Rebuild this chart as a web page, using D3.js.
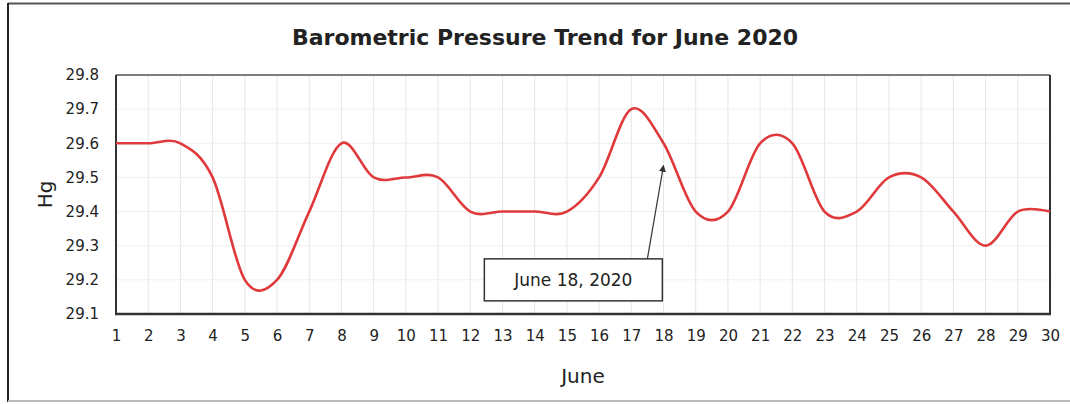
<!DOCTYPE html>
<html>
<head>
<meta charset="utf-8">
<script src="https://cdn.jsdelivr.net/npm/d3@7"></script>
<style>
  html, body { margin: 0; padding: 0; background: #fff; }
  svg { display: block; }
  text { font-family: "DejaVu Sans", "Noto Sans", sans-serif; fill: #222; }
</style>
</head>
<body>
<svg id="chart" width="1070" height="404"></svg>
<script>
// Daily barometric pressure, June 2020 (inches of mercury)
const days = d3.range(1, 31);
const pressure = [29.6, 29.6, 29.6, 29.5, 29.2, 29.2, 29.4, 29.6, 29.5, 29.5,
                  29.5, 29.4, 29.4, 29.4, 29.4, 29.5, 29.7, 29.6, 29.4, 29.4,
                  29.6, 29.6, 29.4, 29.4, 29.5, 29.5, 29.4, 29.3, 29.4, 29.4];
const yTicks = [29.1, 29.2, 29.3, 29.4, 29.5, 29.6, 29.7, 29.8];
const xTicks = days;

const titleText = "Barometric Pressure Trend for June 2020";
const xTitle = "June";
const yTitle = "Hg";

// callout: box centre and arrow (in day / pressure units)
const calloutText = "June 18, 2020";
const calloutBox = { day: 15.2, value: 29.2 };
const calloutArrowFrom = { day: 17.5, value: 29.262 };
const calloutArrowTo = { day: 18.0, value: 29.535 };

const svg = d3.select("#chart");
const plot = { left: 116, right: 1050, top: 75, bottom: 314 };

const x = d3.scaleLinear().domain([1, 30]).range([plot.left, plot.right]);
const y = d3.scaleLinear().domain([29.1, 29.8]).range([plot.bottom, plot.top]);

// outer frame (its right side runs past the page edge)
svg.append("line").attr("x1", 8).attr("x2", 1070).attr("y1", 3.5).attr("y2", 3.5)
  .attr("stroke", "#555").attr("stroke-width", 2);
svg.append("line").attr("x1", 8).attr("x2", 8).attr("y1", 3).attr("y2", 402)
  .attr("stroke", "#222").attr("stroke-width", 2);
svg.append("line").attr("x1", 8).attr("x2", 1070).attr("y1", 401).attr("y2", 401)
  .attr("stroke", "#bbb").attr("stroke-width", 2);

// grid
const grid = svg.append("g");
grid.selectAll("line.v").data(xTicks).join("line")
  .attr("x1", d => x(d)).attr("x2", d => x(d))
  .attr("y1", plot.top).attr("y2", plot.bottom)
  .attr("stroke", "#e6e6e6").attr("stroke-width", 1);
grid.selectAll("line.h").data(yTicks).join("line")
  .attr("x1", plot.left).attr("x2", plot.right)
  .attr("y1", d => y(d)).attr("y2", d => y(d))
  .attr("stroke", "#efefef").attr("stroke-width", 1);

// axes (labels only, frame drawn separately)
const yAxis = d3.axisLeft(y).tickValues(yTicks).tickSize(0).tickPadding(17)
  .tickFormat(d3.format(".1f"));
const yG = svg.append("g").attr("transform", `translate(${plot.left},0)`).call(yAxis);
yG.select(".domain").remove();
yG.selectAll("text").style("font-size", "15px").attr("fill", "#2a2a2a")
  .style("font-family", "'DejaVu Sans', sans-serif");

const xAxis = d3.axisBottom(x).tickValues(xTicks).tickSize(0).tickPadding(16)
  .tickFormat(d3.format("d"));
const xG = svg.append("g").attr("transform", `translate(0,${plot.bottom})`).call(xAxis);
xG.select(".domain").remove();
xG.selectAll("text").style("font-size", "15px").attr("fill", "#2a2a2a")
  .style("font-family", "'DejaVu Sans', sans-serif");

// plot frame
svg.append("line").attr("x1", plot.left).attr("x2", plot.right)
  .attr("y1", plot.top).attr("y2", plot.top).attr("stroke", "#555").attr("stroke-width", 1.5);
svg.append("line").attr("x1", plot.right).attr("x2", plot.right)
  .attr("y1", plot.top).attr("y2", plot.bottom).attr("stroke", "#333").attr("stroke-width", 2);
svg.append("line").attr("x1", plot.left).attr("x2", plot.left)
  .attr("y1", plot.top).attr("y2", plot.bottom).attr("stroke", "#333").attr("stroke-width", 2);
svg.append("line").attr("x1", plot.left - 1).attr("x2", plot.right + 1)
  .attr("y1", plot.bottom).attr("y2", plot.bottom).attr("stroke", "#333").attr("stroke-width", 2.5);

// smoothed pressure line
const line = d3.line()
  .x((d, i) => x(days[i]))
  .y(d => y(d))
  .curve(d3.curveCardinal.tension(0));
svg.append("path").datum(pressure)
  .attr("d", line)
  .attr("fill", "none")
  .attr("stroke", "#e0393b")
  .attr("stroke-width", 2.6)
  .attr("stroke-linejoin", "round");

// callout arrow
svg.append("defs").append("marker")
  .attr("id", "arrowhead").attr("viewBox", "0 0 10 10")
  .attr("refX", 9).attr("refY", 5)
  .attr("markerWidth", 7).attr("markerHeight", 7)
  .attr("markerUnits", "userSpaceOnUse")
  .attr("orient", "auto")
  .append("path").attr("d", "M0,0 L10,5 L0,10 Z").attr("fill", "#333");
svg.append("line")
  .attr("x1", x(calloutArrowFrom.day)).attr("y1", y(calloutArrowFrom.value))
  .attr("x2", x(calloutArrowTo.day)).attr("y2", y(calloutArrowTo.value))
  .attr("stroke", "#333").attr("stroke-width", 1.2)
  .attr("marker-end", "url(#arrowhead)");

// callout box
const boxW = 178, boxH = 42;
const bx = x(calloutBox.day), by = y(calloutBox.value);
svg.append("rect")
  .attr("x", bx - boxW / 2).attr("y", by - boxH / 2)
  .attr("width", boxW).attr("height", boxH)
  .attr("fill", "#fff").attr("stroke", "#333").attr("stroke-width", 1.5);
svg.append("text")
  .attr("x", bx).attr("y", by + 6)
  .attr("text-anchor", "middle")
  .style("font-size", "17px")
  .text(calloutText);

// titles
svg.append("text")
  .attr("x", 545).attr("y", 45)
  .attr("text-anchor", "middle")
  .style("font-size", "22px").style("font-weight", "bold")
  .text(titleText);

svg.append("text")
  .attr("x", (plot.left + plot.right) / 2).attr("y", 383)
  .attr("text-anchor", "middle")
  .style("font-size", "20px")
  .text(xTitle);

svg.append("text")
  .attr("transform", `translate(52, ${(plot.top + plot.bottom) / 2}) rotate(-90)`)
  .attr("text-anchor", "middle")
  .style("font-size", "20px")
  .text(yTitle);
</script>
</body>
</html>
